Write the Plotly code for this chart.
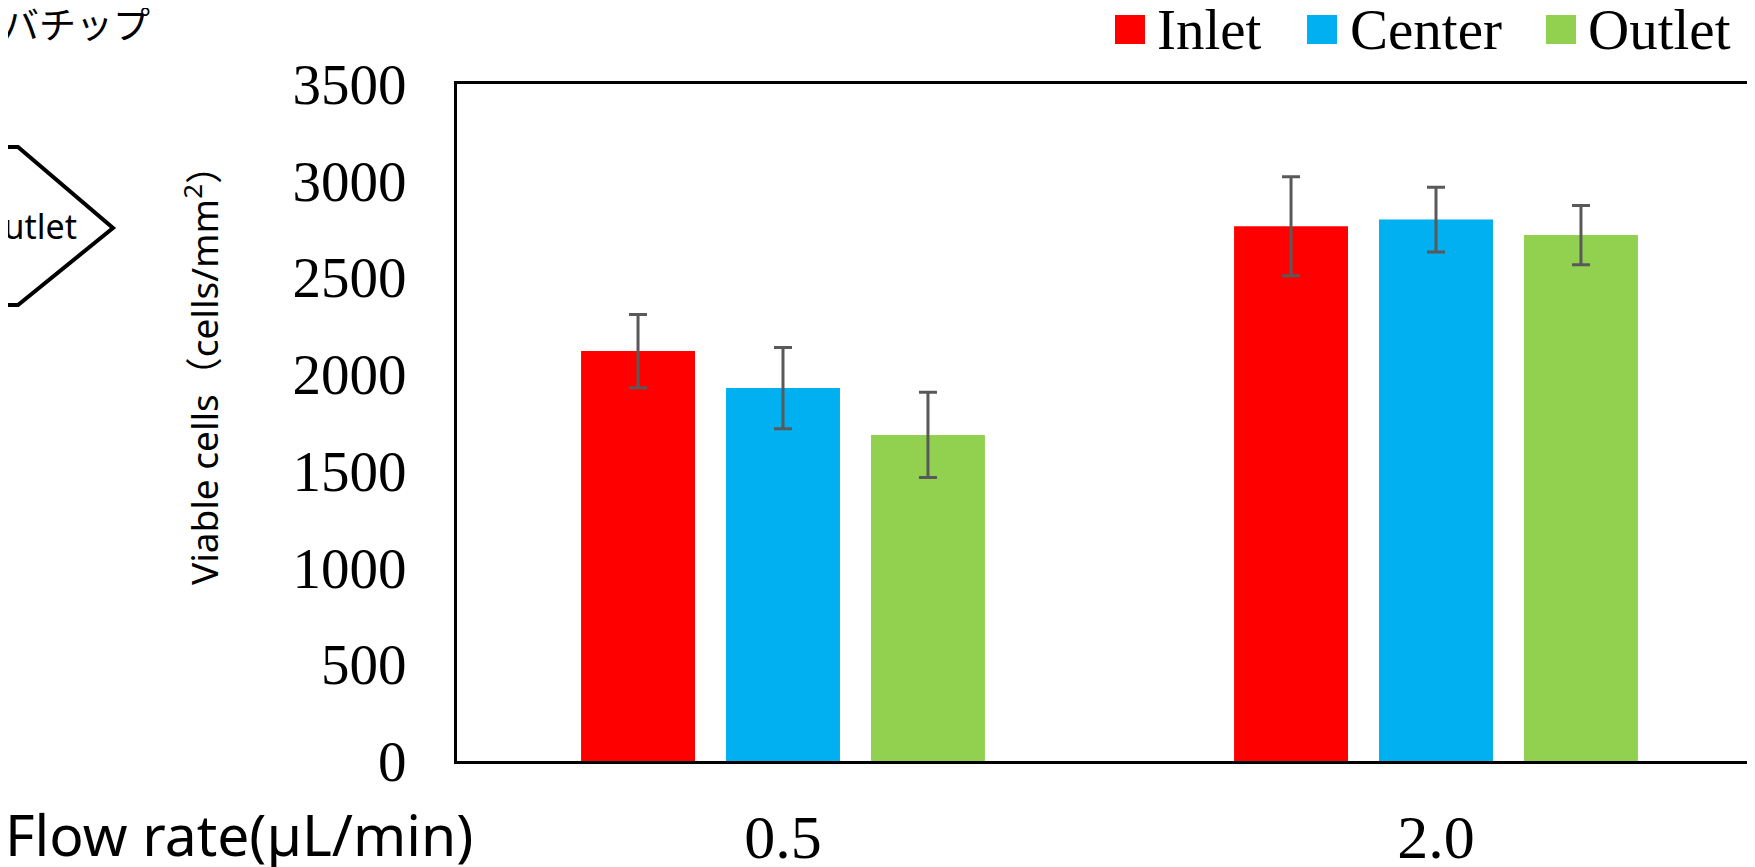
import plotly.graph_objects as go

# ---- data ----
flow_rates = ["0.5", "2.0"]
series_names = ["Inlet", "Center", "Outlet"]
inlet_vals = [2119, 2765]
center_vals = [1928, 2799]
outlet_vals = [1686, 2719]
inlet_err = [189, 256]
center_err = [210, 167]
outlet_err = [220, 153]
y_ticks = [0, 500, 1000, 1500, 2000, 2500, 3000, 3500]
colors = ["#FF0000", "#00B0F0", "#92D050"]

# page is offset by the default 8px body margin of the html page
OFF = 8
W, H = 1755 - OFF, 867 - OFF
L, T, B = 449, 76, 106
PW = W - L
PH = H - T - B

# x scale: category spacing and first category centre (page px)
CAT_STEP = 653.0
CAT0 = 783.0 - OFF
x_lo = (L - CAT0) / CAT_STEP
x_hi = (W - CAT0) / CAT_STEP


def px(x):
    return (x - OFF - L) / PW


def py(y):
    return (T + PH - (y - OFF)) / PH


fig = go.Figure()
for name, vals, errs, col in zip(series_names,
                                  [inlet_vals, center_vals, outlet_vals],
                                  [inlet_err, center_err, outlet_err],
                                  colors):
    fig.add_trace(go.Bar(
        x=flow_rates, y=vals, name=name, marker_color=col,
        marker_line_width=0, showlegend=False,
        error_y=dict(type="data", array=errs, color="#595959",
                     thickness=3, width=9),
    ))

serif = "Liberation Serif, Times New Roman, serif"
sans = "Noto Sans, Noto Sans CJK JP, sans-serif"

annotations = []
shapes = []

# manual legend (large square swatches)
sw_left = [1115, 1307, 1546]
txt_left = [1158, 1351, 1589]
for name, col, sx, tx in zip(series_names, colors, sw_left, txt_left):
    shapes.append(dict(type="rect", xref="paper", yref="paper",
                       x0=px(sx), x1=px(sx + 30), y0=py(44), y1=py(15),
                       fillcolor=col, line=dict(width=0)))
    annotations.append(dict(text=name, xref="paper", yref="paper",
                            x=px(tx - 3), y=py(29), xanchor="left",
                            yanchor="middle", showarrow=False,
                            font=dict(family=serif, size=57, color="black")))

# y-axis title
annotations.append(dict(text="Viable cells（cells/mm<sup>2</sup>）",
                        xref="paper", yref="paper", x=px(201), y=py(366),
                        xanchor="center", yanchor="middle", textangle=-90,
                        showarrow=False,
                        font=dict(family=sans, size=37, color="black")))

# x-axis label
annotations.append(dict(text="Flow rate(µL/min)", xref="paper", yref="paper",
                        x=px(3), y=py(834), xanchor="left", yanchor="middle",
                        showarrow=False,
                        font=dict(family=sans, size=57, color="black")))

# cropped left-side content
annotations.append(dict(text="バチップ", xref="paper", yref="paper",
                        x=px(0), y=py(23), xanchor="left", yanchor="middle",
                        showarrow=False,
                        font=dict(family="Noto Sans CJK JP", size=37,
                                  color="black")))
annotations.append(dict(text="Outlet", xref="paper", yref="paper",
                        x=px(79), y=py(226), xanchor="right", yanchor="middle",
                        showarrow=False,
                        font=dict(family=sans, size=34, color="black")))

pts = [(-6, 147), (18, 147), (113, 228), (18, 305), (-6, 305)]
path = "M " + " L ".join(f"{px(x)},{py(y)}" for x, y in pts)
shapes.append(dict(type="path", xref="paper", yref="paper", path=path,
                   line=dict(color="black", width=4)))

fig.update_layout(
    width=W, height=H,
    margin=dict(l=L, r=0, t=T, b=B, autoexpand=False),
    paper_bgcolor="white", plot_bgcolor="white",
    barmode="group", bargap=0.334, bargroupgap=0.214,
    showlegend=False,
    annotations=annotations, shapes=shapes,
    xaxis=dict(type="category", range=[x_lo, x_hi], showgrid=False,
               showline=True, linecolor="black", linewidth=3, mirror=True,
               ticks="", ticklabelstandoff=20, zeroline=False,
               automargin=False,
               tickfont=dict(family=serif, size=62, color="black")),
    yaxis=dict(range=[0, 3500], tickvals=y_ticks, showgrid=False,
               showline=True, linecolor="black", linewidth=3, mirror=False,
               ticks="", ticklabelstandoff=36, zeroline=False,
               automargin=False,
               tickfont=dict(family=serif, size=57, color="black")),
)

fig.write_html("out.html")
